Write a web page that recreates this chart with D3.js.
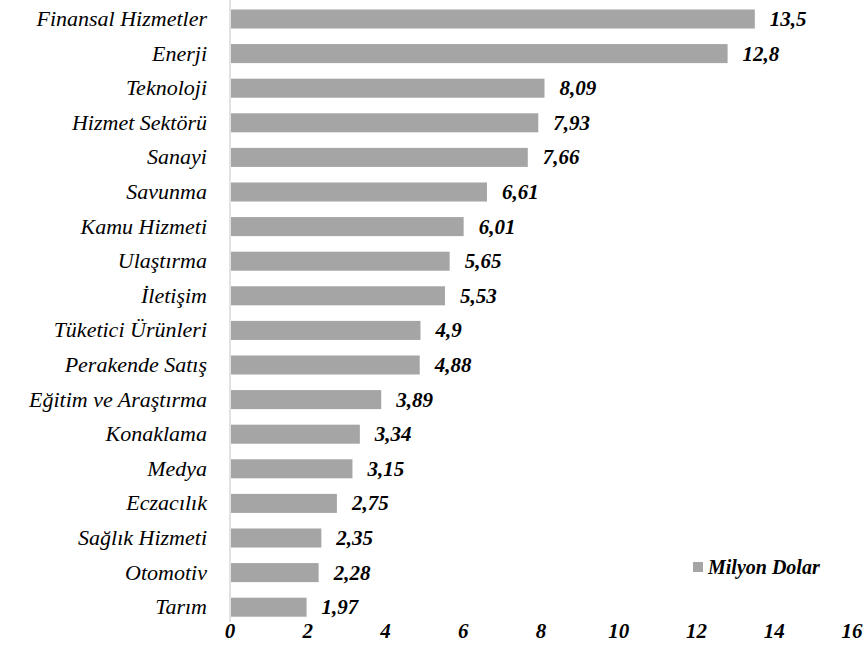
<!DOCTYPE html>
<html><head><meta charset="utf-8">
<script src="https://cdn.jsdelivr.net/npm/d3@7"></script>
</head><body>
<script>
const categories = ["Finansal Hizmetler","Enerji","Teknoloji","Hizmet Sektörü","Sanayi","Savunma","Kamu Hizmeti","Ulaştırma","İletişim","Tüketici Ürünleri","Perakende Satış","Eğitim ve Araştırma","Konaklama","Medya","Eczacılık","Sağlık Hizmeti","Otomotiv","Tarım"];
const values = [13.5,12.8,8.09,7.93,7.66,6.61,6.01,5.65,5.53,4.9,4.88,3.89,3.34,3.15,2.75,2.35,2.28,1.97];
const valueLabels = ["13,5","12,8","8,09","7,93","7,66","6,61","6,01","5,65","5,53","4,9","4,88","3,89","3,34","3,15","2,75","2,35","2,28","1,97"];
const ticks = [0,2,4,6,8,10,12,14,16];
const seriesName = "Milyon Dolar";

const W=867,H=666;
const FONT='"Times New Roman"';
d3.select("body").style("margin","0").style("background","#fff");
const svg=d3.select("body").append("svg").attr("width",W).attr("height",H).style("display","block");
const x=d3.scaleLinear().domain([0,16]).range([230,852]);
const y=d3.scaleBand().domain(categories).range([1.7,624.5]).paddingInner(0.45).paddingOuter(0.225);
const barColor="#a5a5a5";

svg.append("line").attr("x1",x(0)).attr("x2",x(0)).attr("y1",0).attr("y2",622)
  .attr("stroke","#d9d9d9").attr("stroke-width",1.5);

svg.selectAll("rect.bar").data(values).join("rect").attr("class","bar")
  .attr("x",x(0)+1).attr("y",(d,i)=>y(categories[i]))
  .attr("width",d=>x(d)-x(0)-1).attr("height",y.bandwidth()).attr("fill",barColor);

svg.selectAll("text.cat").data(categories).join("text").attr("class","cat")
  .attr("x",207).attr("y",d=>y(d)+y.bandwidth()/2+7)
  .attr("text-anchor","end")
  .style("font-family",FONT).style("font-style","italic").style("font-size","22px")
  .text(d=>d);

svg.selectAll("text.val").data(values).join("text").attr("class","val")
  .attr("x",d=>x(d)+15).attr("y",(d,i)=>y(categories[i])+y.bandwidth()/2+7)
  .style("font-family",FONT).style("font-style","italic").style("font-weight","bold").style("font-size","21px")
  .text((d,i)=>valueLabels[i]);

svg.selectAll("text.tick").data(ticks).join("text").attr("class","tick")
  .attr("x",d=>x(d)).attr("y",638).attr("text-anchor","middle")
  .style("font-family",FONT).style("font-style","italic").style("font-weight","bold").style("font-size","21px")
  .text(d=>d);

svg.append("rect").attr("x",693).attr("y",562).attr("width",10).attr("height",10).attr("fill",barColor);
svg.append("text").attr("x",708).attr("y",574)
  .style("font-family",FONT).style("font-style","italic").style("font-weight","bold").style("font-size","20px")
  .text(seriesName);
</script>
</body></html>
